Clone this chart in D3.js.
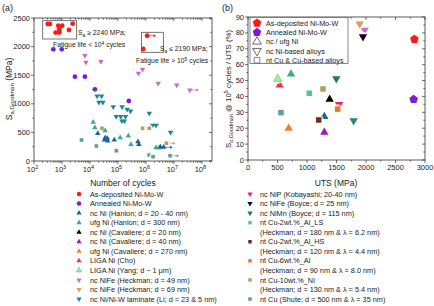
<!DOCTYPE html>
<html>
<head>
<meta charset="utf-8">
<script src="https://cdn.jsdelivr.net/npm/d3@7"></script>
<style>
  body { margin: 0; background: #fff; }
  svg { font-family: "Liberation Sans", Arial, sans-serif; }
</style>
</head>
<body>
<svg id="root" width="434" height="306"></svg>
<script>
// ---- series (shared by both panels) ----
const seriesNames = [
  'As-deposited Ni-Mo-W', 'Annealed Ni-Mo-W',
  'nc Ni (Hanlon; d = 20 - 40 nm)', 'ufg Ni (Hanlon; d = 300 nm)',
  'nc Ni (Cavaliere; d = 20 nm)', 'nc Ni (Cavaliere; d = 40 nm)',
  'ufg Ni (Cavaliere; d = 270 nm)', 'LIGA Ni (Cho)', 'LIGA Ni (Yang; d ~ 1 μm)',
  'nc NiFe (Heckman; d = 49 nm)', 'nc NiFe (Heckman; d = 69 nm)',
  'nc Ni/Ni-W laminate (Li; d = 23 & 5 nm)',
  'nc NiP (Kobayashi; 20-40 nm)', 'nc NiFe (Boyce; d = 25 nm)', 'nc NiMn (Boyce; d = 115 nm)',
  ['nt Cu-2wt.%_Al_LS', '(Heckman; d = 180 nm & λ = 6.2 nm)'],
  ['nt Cu-2wt.%_Al_HS', '(Heckman; d = 120 nm & λ = 4.4 nm)'],
  ['nt Cu-6wt.%_Al', '(Heckman; d = 90 nm & λ = 8.0 nm)'],
  ['nt Cu-10wt.%_Ni', '(Heckman; d = 130 nm & λ = 5.4 nm)'],
  'nt Cu (Shute; d = 500 nm & λ = 35 nm)'
];
const seriesColors = [
  '#ff1a1a', '#7a1fd6', '#1f62a0', '#3aaa8c', '#000000', '#9a1ac8', '#e8803a',
  '#e8306a', '#a8e8a0', '#c070c8', '#d8a060', '#1a8a8a', '#f01e6e', '#0a0a28',
  '#1e7870', '#48c8a8', '#6a2a28', '#e07838', '#a8a070', '#5a9ac0'
];
const seriesShapes = [
  'circle', 'circle', 'up', 'up', 'up', 'up', 'up', 'up', 'up',
  'down', 'down', 'down', 'down', 'down', 'down',
  'square', 'square', 'square', 'square', 'square'
];

// ---- panel (a): [cycles, S_a,Goodman (MPa), runout] ----
const aAsDeposited = [
  [310, 2395], [370, 2395], [740, 2365], [1020, 2365], [2400, 2400], [800, 2320],
  [1780, 2290], [590, 2245], [800, 2245], [800, 2280], [1.1e6, 2190, 1], [8e5, 1958]
];
const aAnnealed = [[490, 1953], [980, 1953], [2900, 1474], [6600, 1474], [15000, 1253], [245000, 1049]];
const aNcNiHanlon = [
  [19000, 484], [35000, 407], [42000, 397], [33000, 368], [43000, 350], [74000, 367],
  [520000, 337], [560000, 292], [3.3e6, 245], [4.3e6, 240, 1]
];
const aUfgNiHanlon = [
  [13000, 677], [15000, 583], [35000, 530], [120000, 407], [235000, 437],
  [290000, 292], [2.3e6, 233], [3.0e6, 233]
];
const aNiFeHeckman49 = [
  [6600, 1841], [7200, 1725], [24500, 1736], [540000, 1533], [760000, 1603],
  [2.75e6, 1358], [1.26e7, 1329], [3.7e7, 1241, 1]
];
const aLaminateLi = [
  [18000, 1136], [26000, 1136], [21000, 1026], [29000, 1026], [68000, 949], [141000, 949],
  [214000, 904], [282000, 874], [87000, 775], [126000, 775], [186000, 775],
  [138000, 700], [170000, 700], [1.32e6, 834], [1.74e6, 624], [2.3e6, 624], [7.6e6, 502]
];
const aCu10Ni = [[27000, 571], [760000, 571], [1.32e6, 571], [5.4e6, 309, 1]];
const aCuShute = [[5000, 367], [17000, 262], [88000, 180], [1.3e6, 105], [1.8e6, 75], [7.3e6, 93, 1]];
const panelA = [
  [0, aAsDeposited], [1, aAnnealed], [9, aNiFeHeckman49], [11, aLaminateLi],
  [18, aCu10Ni], [3, aUfgNiHanlon], [2, aNcNiHanlon], [19, aCuShute]
];

// ---- panel (b): UTS (MPa) and S_a @ 1e5 / UTS (%) per series ----
const bUts   = [2820, 2808, 1294, 729, 1384, 1294, 689, 537, 503, 1977, 1893, 1791, 1542, 1949, 1497, 1039, 1198, 1520, 1271, 559];
const bRatio = [76, 38.2, 27.3, 54.1, 38.2, 17.4, 19.9, 47.2, 51, 81.8, 85.6, 24.8, 35, 77.6, 51.2, 42, 25.2, 32, 44.7, 29.8];

const aYTicks = [0, 500, 1000, 1500, 2000, 2500];
const aXTicks = [1e2, 1e3, 1e4, 1e5, 1e6, 1e7, 1e8];
const bXTicks = [0, 500, 1000, 1500, 2000, 2500, 3000];
const bYTicks = [0, 10, 20, 30, 40, 50, 60, 70, 80, 90];

const root = d3.select('#root');

const pentagon = {
  draw(ctx, size) {
    const r = Math.sqrt(size / 2.378);
    for (let i = 0; i < 5; i++) {
      const a = -Math.PI / 2 + i * 2 * Math.PI / 5;
      i ? ctx.lineTo(r * Math.cos(a), r * Math.sin(a)) : ctx.moveTo(r * Math.cos(a), r * Math.sin(a));
    }
    ctx.closePath();
  }
};
const symType = s => ({ circle: d3.symbolCircle, up: d3.symbolTriangle, down: d3.symbolTriangle,
  square: d3.symbolSquare, pentagon: pentagon })[s];

const marker = (g, x, y, shape, color, size, opts = {}) => {
  if (opts.halo) {
    g.append('circle').attr('cx', x).attr('cy', y).attr('r', opts.halo).attr('fill', '#fffbe2').attr('opacity', 0.8);
  }
  const p = g.append('path')
    .attr('d', d3.symbol().type(symType(shape)).size(size)())
    .attr('transform', `translate(${x},${y})` + (shape === 'down' ? ' rotate(180)' : ''));
  if (opts.open) {
    p.attr('fill', 'none').attr('stroke', color).attr('stroke-width', 0.8);
  } else {
    p.attr('fill', color);
    if (color === '#a8e8a0') p.attr('stroke', '#5cbf6a').attr('stroke-width', 0.6);
  }
};

// axis helper: frame with outward ticks left/bottom and inward mirrors right/top
const frame = (g, x, y, xMajor, xMinor, yMajor, yMinor) => {
  const [x0, x1] = x.range(), [y0, y1] = y.range();
  g.append('rect').attr('x', x0).attr('y', y1).attr('width', x1 - x0).attr('height', y0 - y1)
    .attr('fill', 'none').attr('stroke', '#333').attr('stroke-width', 0.8);
  const tk = (vals, len, isX) => vals.forEach(v => {
    if (isX) {
      const px = x(v);
      g.append('line').attr('x1', px).attr('x2', px).attr('y1', y0).attr('y2', y0 + len).attr('stroke', '#333').attr('stroke-width', 0.7);
      g.append('line').attr('x1', px).attr('x2', px).attr('y1', y1).attr('y2', y1 + len).attr('stroke', '#333').attr('stroke-width', 0.7);
    } else {
      const py = y(v);
      g.append('line').attr('x1', x0 - len).attr('x2', x0).attr('y1', py).attr('y2', py).attr('stroke', '#333').attr('stroke-width', 0.7);
      g.append('line').attr('x1', x1 - len).attr('x2', x1).attr('y1', py).attr('y2', py).attr('stroke', '#333').attr('stroke-width', 0.7);
    }
  });
  tk(xMajor, 3, true); tk(xMinor, 1.7, true);
  tk(yMajor, 3, false); tk(yMinor, 1.7, false);
};

// ================= panel (a) =================
const xA = d3.scaleLog().domain([1e2, 2.3e8]).range([34, 212]);
const yA = d3.scaleLinear().domain([0, 2500]).range([161, 18]);
const gA = root.append('g');
const aMinorX = [];
for (let e = 2; e <= 8; e++) for (let m = 2; m <= 9; m++) if (m * 10 ** e <= 2.3e8) aMinorX.push(m * 10 ** e);
frame(gA, xA, yA, aXTicks, aMinorX, aYTicks, d3.range(250, 2500, 500));

gA.selectAll('.ytl').data(aYTicks).join('text')
  .attr('x', 30).attr('y', d => yA(d) + 2.6).attr('text-anchor', 'end')
  .attr('font-size', 7.5).attr('fill', '#222').text(d => d);
const xtl = gA.selectAll('.xtl').data(aXTicks).join('text')
  .attr('x', d => xA(d) - 1.5).attr('y', 172).attr('text-anchor', 'middle')
  .attr('font-size', 7.5).attr('fill', '#222').text('10');
xtl.append('tspan').attr('dy', -3.5).attr('font-size', 5.5).text(d => Math.round(Math.log10(d)));

gA.append('text').attr('x', 123).attr('y', 186).attr('text-anchor', 'middle')
  .attr('font-size', 8.5).attr('fill', '#222').text('Number of cycles');
const ylA = gA.append('text').attr('transform', 'translate(12,89) rotate(-90)').attr('text-anchor', 'middle')
  .attr('font-size', 8.5).attr('fill', '#222');
ylA.append('tspan').text('S');
ylA.append('tspan').attr('font-size', 6).attr('dy', 2).text('a,Goodman');
ylA.append('tspan').attr('dy', -2).text(' (MPa)');
gA.append('text').attr('x', 2).attr('y', 11).attr('font-size', 9).attr('fill', '#222').text('(a)');

// annotation boxes
gA.append('rect').attr('x', xA(205)).attr('y', yA(2453)).attr('width', xA(3350) - xA(205))
  .attr('height', yA(2133) - yA(2453)).attr('fill', 'none').attr('stroke', '#555').attr('stroke-width', 0.8);
gA.append('rect').attr('x', xA(6.9e5)).attr('y', yA(2250)).attr('width', xA(4.2e6) - xA(6.9e5))
  .attr('height', yA(1900) - yA(2250)).attr('fill', 'none').attr('stroke', '#555').attr('stroke-width', 0.8);
const note = (x, y, parts) => {
  const t = gA.append('text').attr('x', x).attr('y', y).attr('font-size', 6.8).attr('fill', '#222');
  parts.forEach(([s, dy, fs]) => { const sp = t.append('tspan').text(s); if (dy) sp.attr('dy', dy); if (fs) sp.attr('font-size', fs); });
};
note(78, 35, [['S'], ['a', 1.5, 5], [' ≥ 2240 MPa;', -1.5]]);
note(53, 47, [['Fatigue life < 10'], ['4', -2.5, 5], [' cycles', 2.5]]);
note(160, 51, [['S'], ['a', 1.5, 5], [' ≤ 2190 MPa;', -1.5]]);
note(136, 63, [['Fatigue life > 10'], ['5', -2.5, 5], [' cycles', 2.5]]);

const ptsA = gA.append('g');
panelA.forEach(([si, arr]) => {
  const shape = seriesShapes[si], color = seriesColors[si];
  arr.forEach(d => {
    const px = xA(d[0]), py = yA(d[1]);
    if (d[2]) {
      ptsA.append('line').attr('x1', px).attr('x2', px + 8).attr('y1', py).attr('y2', py)
        .attr('stroke', color).attr('stroke-width', 0.7);
      ptsA.append('path').attr('d', `M${px + 9},${py} l-2.5,-1.5 l0,3 z`).attr('fill', color);
    }
    marker(ptsA, px, py, shape, color, shape === 'circle' ? 18 : 13, { halo: shape === 'square' ? 3.6 : 0 });
  });
});

// ================= panel (b) =================
const xB = d3.scaleLinear().domain([0, 3000]).range([248, 425]);
const yB = d3.scaleLinear().domain([0, 90]).range([160, 17]);
const gB = root.append('g');
frame(gB, xB, yB, bXTicks, d3.range(250, 3000, 500), bYTicks, d3.range(5, 90, 10));
gB.selectAll('.ytl').data(bYTicks).join('text')
  .attr('x', 244).attr('y', d => yB(d) + 2.6).attr('text-anchor', 'end')
  .attr('font-size', 7.5).attr('fill', '#222').text(d => d);
gB.selectAll('.xtl').data(bXTicks).join('text')
  .attr('x', d => xB(d)).attr('y', 170).attr('text-anchor', 'middle')
  .attr('font-size', 7.5).attr('fill', '#222').text(d => d);
gB.append('text').attr('x', 336).attr('y', 186).attr('text-anchor', 'middle')
  .attr('font-size', 8.5).attr('fill', '#222').text('UTS (MPa)');
const ylB = gB.append('text').attr('transform', 'translate(231,89) rotate(-90)').attr('text-anchor', 'middle')
  .attr('font-size', 7.8).attr('fill', '#222');
ylB.append('tspan').text('S');
ylB.append('tspan').attr('font-size', 5.5).attr('dy', 2).text('a,Goodman');
ylB.append('tspan').attr('dy', -2).text(' @ 10');
ylB.append('tspan').attr('font-size', 5.5).attr('dy', -3).text('5');
ylB.append('tspan').attr('dy', 3).text(' cycles / UTS (%)');
gB.append('text').attr('x', 222).attr('y', 11).attr('font-size', 9).attr('fill', '#222').text('(b)');

const ptsB = gB.append('g');
bUts.forEach((u, i) => {
  const shape = seriesShapes[i] === 'circle' ? 'pentagon' : seriesShapes[i];
  const size = shape === 'pentagon' ? 48 : 30;
  marker(ptsB, xB(u), yB(bRatio[i]), shape, seriesColors[i], size, { halo: 5 });
});

// inset legend (b)
const legB = [['pentagon', '#ff1a1a', 'As-deposited Ni-Mo-W', false], ['pentagon', '#7a1fd6', 'Annealed Ni-Mo-W', false],
  ['up', '#444', 'nc / ufg Ni', true], ['down', '#444', 'nc Ni-based alloys', true], ['square', '#666', 'nt Cu & Cu-based alloys', true]];
gB.append('rect').attr('x', 250).attr('y', 17.5).attr('width', 98).attr('height', 46)
  .attr('fill', '#fff').attr('stroke', '#555').attr('stroke-width', 0.7);
legB.forEach(([s, c, t, open], i) => {
  const y = 23 + i * 9.3;
  marker(gB, 257, y, s, c, s === 'pentagon' ? 48 : 32, { open });
  gB.append('text').attr('x', 266).attr('y', y + 2.6).attr('font-size', 7.2).attr('fill', '#222').text(t);
});

// ================= bottom legends =================
const legLines = [];
seriesNames.forEach((n, i) => {
  const col = i < 12 ? 0 : 1;
  const lines = Array.isArray(n) ? n : [n];
  lines.forEach((t, k) => legLines.push({ col, t, i, first: k === 0 }));
});
const gL = root.append('g');
[0, 1].forEach(col => {
  legLines.filter(d => d.col === col).forEach((d, r) => {
    const y = 194 + r * 9.55;
    const mx = col ? 250 : 79, tx = col ? 260 : 90;
    if (d.first) marker(gL, mx, y, seriesShapes[d.i], seriesColors[d.i], seriesShapes[d.i] === 'circle' ? 16 : 12);
    gL.append('text').attr('x', tx).attr('y', y + 2.6).attr('font-size', 7.3).attr('fill', '#222').text(d.t);
  });
});
</script>
</body>
</html>
